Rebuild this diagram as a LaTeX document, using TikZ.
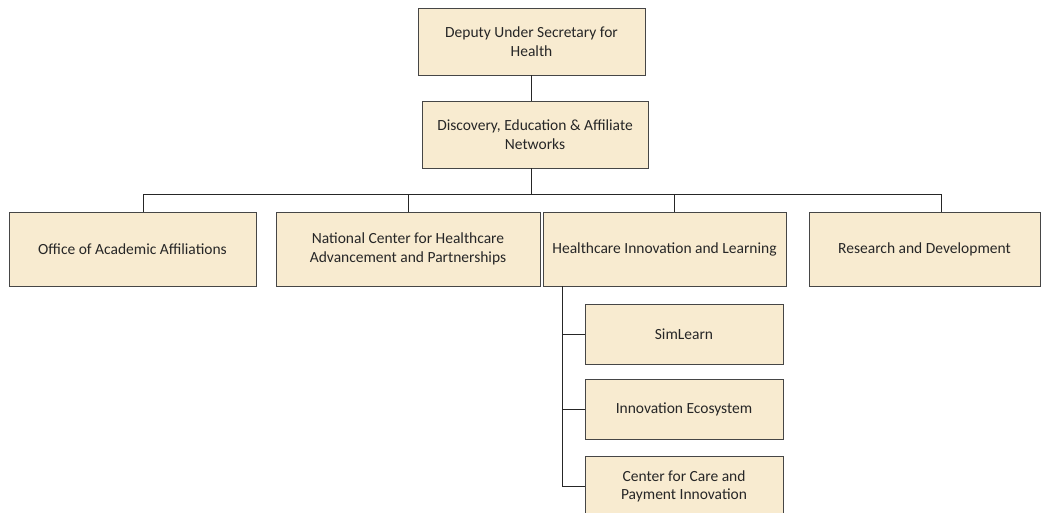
\documentclass[tikz,border=0pt]{standalone}
\usepackage{fontspec}
\setmainfont{Carlito}
\usepackage{xcolor}
\usepackage{tikz}
\usetikzlibrary{positioning, calc}
\definecolor{parchment}{RGB}{248,235,208}
\definecolor{edge}{RGB}{70,70,70}
\tikzstyle{unit} = [rectangle, minimum height=67pt, text centered, align=center, draw=edge, line width=0.8pt, fill=parchment, text=black!85, font=\fontsize{15.5}{18.5}\selectfont]
\tikzstyle{link} = [line width=0.9pt, black!85]

\begin{document}
\begin{tikzpicture}[x=1pt, y=-1pt, node distance=15pt]
    \clip (0,0) rectangle (1043,512);
    \useasboundingbox (0,0) rectangle (1043,512);
    \fill[white] (0,0) rectangle (1043,512);

    % Top levels
    \node[unit, minimum width=227pt] (dus) at (531.5,41.5) {Deputy Under Secretary for\\Health};
    \node[unit, minimum width=226pt] (deaan) at (535,134.5) {Discovery, Education \& Affiliate\\Networks};

    % Offices
    \node[unit, minimum width=247pt, minimum height=74pt] (oaa) at (132.5,249) {Office of Academic Affiliations};
    \node[unit, minimum width=264pt, minimum height=74pt] (nchap) at (408,249) {National Center for Healthcare\\Advancement and Partnerships};
    \node[unit, minimum width=243pt, minimum height=74pt] (hil) at (664.5,249) {Healthcare Innovation and Learning};
    \node[unit, minimum width=231pt, minimum height=74pt] (rd) at (924.5,249) {Research and Development};

    % Healthcare Innovation and Learning programs
    \node[unit, minimum width=198pt, minimum height=60pt] (sim) at (684,334) {SimLearn};
    \node[unit, minimum width=198pt, minimum height=60pt, below=15pt of sim] (eco) {Innovation Ecosystem};
    \node[unit, minimum width=198pt, minimum height=60pt, below=16pt of eco] (ccpi) {Center for Care and\\Payment Innovation};

    % Bus
    \coordinate (bus) at (531,194);
    \coordinate (busl) at (143,194);
    \coordinate (busr) at (941,194);
    \coordinate (spine) at (562,300);

    \draw[link] (dus.south -| bus) -- (bus |- deaan.north);
    \draw[link] (deaan.south -| bus) -- (bus);
    \draw[link] (busl) -- (busr);
    \foreach \n/\x in {oaa/143, nchap/408, hil/674, rd/941}
        \draw[link] (\x,194) -- (\x,194 |- \n.north);

    % Spine
    \draw[link] (hil.south -| spine) -- (spine |- ccpi.west) -- (ccpi.west);
    \foreach \n in {sim, eco}
        \draw[link] (spine |- \n.west) -- (\n.west);
\end{tikzpicture}
\end{document}
